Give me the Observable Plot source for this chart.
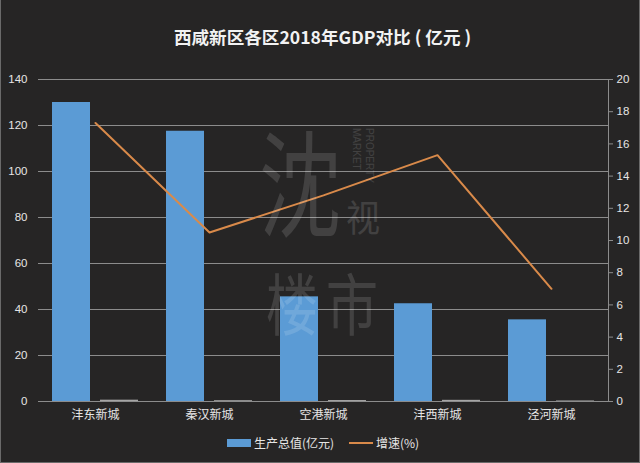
<!DOCTYPE html>
<html lang="zh">
<head>
<meta charset="utf-8">
<script src="https://cdn.jsdelivr.net/npm/d3@7"></script>
<script src="https://cdn.jsdelivr.net/npm/@observablehq/plot@0.6"></script>
<style>
  html, body { margin: 0; padding: 0; background: #262525; }
  #page { position: relative; width: 640px; height: 463px; overflow: hidden; background: #262525; box-sizing: border-box; font-family: "Noto Sans CJK SC", sans-serif; }
  #page::after { content: ""; position: absolute; inset: 0; border: 1px solid #6a6a6a; border-top: 0; pointer-events: none; }
  #title { height: 60px; box-sizing: border-box; padding-top: 25px; padding-left: 5px; text-align: center; color: #f2f2f2; font-size: 17.6px; line-height: 24px; font-weight: 700; white-space: nowrap; }
  svg { display: block; }
  #legend { position: relative; height: 33px; color: #e6e6e6; font-size: 12px; }
  #legend .s { position: absolute; left: 227px; top: 9px; width: 24px; height: 8px; background: #5b9bd5; }
  #legend .l { position: absolute; left: 349px; top: 12px; width: 24px; height: 2px; background: #d98a4a; }
  #legend span { position: absolute; top: 4px; line-height: 18px; white-space: nowrap; }
  .wm { position: absolute; color: #fff; opacity: .13; line-height: 1; pointer-events: none; white-space: nowrap; transform-origin: top left; }
</style>
</head>
<body>
<div id="page">
  <div id="title">西咸新区各区2018年GDP对比 ( 亿元 )</div>
  <div id="chart"></div>
  <div id="legend">
    <div class="s"></div><span style="left:254px">生产总值(亿元)</span>
    <div class="l"></div><span style="left:376px">增速(%)</span>
  </div>
  <div class="wm" style="left:259px;top:122px;font-size:82px;transform:scaleY(1.4);">沈</div>
  <div class="wm" style="left:346px;top:198px;font-size:34px;transform:scaleY(1.1);">视</div>
  <div class="wm" style="left:266px;top:268px;font-size:52px;transform:scaleY(1.3);">楼</div>
  <div class="wm" style="left:326px;top:268px;font-size:52px;transform:scaleY(1.3);">市</div>
  <div class="wm" style="left:351px;top:128px;font-size:10px;writing-mode:vertical-rl;font-family:'Liberation Sans';">MARKET</div>
  <div class="wm" style="left:364px;top:128px;font-size:10px;writing-mode:vertical-rl;font-family:'Liberation Sans';">PROPERTY</div>
</div>
<script>
const districts = ["沣东新城", "秦汉新城", "空港新城", "沣西新城", "泾河新城"];
const gdp = [130, 117.5, 45.5, 42.5, 35.5];
const growth = [17.3, 10.5, 12.8, 15.3, 7.0];
const gdpTicks = [0, 20, 40, 60, 80, 100, 120, 140];
const growthTicks = [0, 2, 4, 6, 8, 10, 12, 14, 16, 18, 20];
const axisRatio = 140 / 20; // right axis 0–20 shares the left axis 0–140 scale

const rows = districts.map((d, i) => ({district: d, gdp: gdp[i], growth: growth[i]}));
const grey = "#8c8c8c";
const label = "#e6e6e6";

const chart = Plot.plot({
  width: 640,
  height: 370,
  marginTop: 19,
  marginBottom: 29,
  marginLeft: 38,
  marginRight: 32,
  style: {background: "transparent", fontFamily: "'Liberation Sans', 'Noto Sans CJK SC', sans-serif", fontSize: "12px", overflow: "visible"},
  x: {domain: districts, padding: 0, axis: null},
  y: {domain: [0, 140], axis: null},
  marks: [
    Plot.gridY(gdpTicks, {stroke: grey, strokeOpacity: 1, strokeWidth: 1}),
    Plot.axisY(gdpTicks, {anchor: "left", tickSize: 0, tickPadding: 11, color: label, label: null, fontSize: 11.5}),
    Plot.axisY(growthTicks.map(d => d * axisRatio), {anchor: "right", tickSize: 4, tickPadding: 4, stroke: grey, color: label, tickFormat: d => Math.round(d / axisRatio), label: null, fontSize: 11.5}),
    Plot.ruleY([0], {stroke: grey}),
    Plot.frame({anchor: "right", stroke: grey}),
    Plot.barY(rows, {x: "district", y: "gdp", fill: "#5b9bd5", insetLeft: 14, insetRight: 62}),
    Plot.barY(rows, {x: "district", y: d => d.growth / 30, fill: "#a5a5a5", insetLeft: 62, insetRight: 14}),
    Plot.lineY(rows, {x: "district", y: d => d.growth * axisRatio, stroke: "#d98a4a", strokeWidth: 2}),
    Plot.axisX(districts, {anchor: "bottom", tickSize: 0, tickPadding: 9, color: label, label: null, fontFamily: "'Noto Sans CJK SC'", fontSize: 12})
  ]
});
document.getElementById("chart").append(chart);
</script>
</body>
</html>
